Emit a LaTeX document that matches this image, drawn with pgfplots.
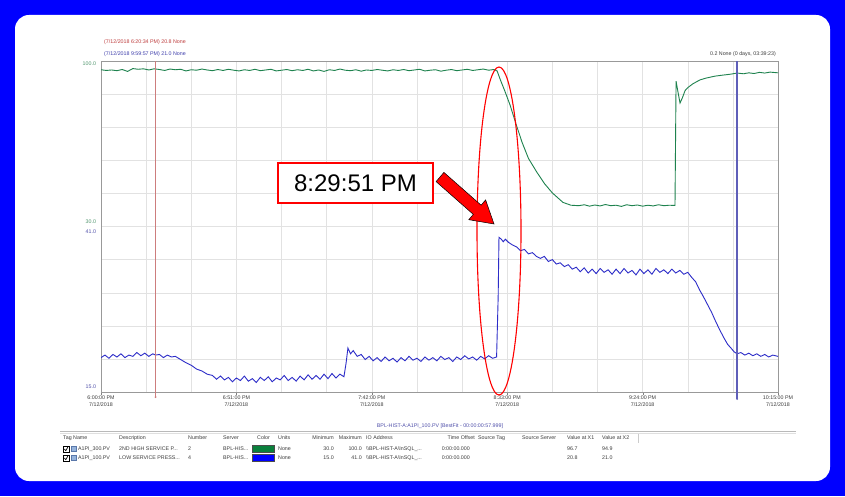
\documentclass[border=0pt]{standalone}
\usepackage{pgfplots}
\pgfplotsset{compat=1.18}
\usepackage{fontspec}
\setmainfont{Liberation Sans}
\definecolor{gline}{RGB}{30,130,78}
\definecolor{bline}{RGB}{45,45,200}
\definecolor{glab}{RGB}{80,150,110}
\definecolor{blab}{RGB}{80,80,170}
\definecolor{gridc}{RGB}{226,226,226}
\definecolor{txt}{RGB}{60,60,60}
\definecolor{bgblue}{RGB}{0,0,255}
\definecolor{swg}{RGB}{10,128,60}
\definecolor{swb}{RGB}{0,0,255}
\definecolor{curA}{RGB}{205,125,125}
\definecolor{curB}{RGB}{95,95,185}
\newcommand\sm{\fontsize{5.3}{6.3}\selectfont}
\begin{document}
\begin{tikzpicture}
\fill[bgblue] (0,0) rectangle (845pt,496pt);
\fill[white,rounded corners=14pt] (15pt,15pt) rectangle (830pt,481pt);
\begin{axis}[at={(101pt,104pt)},anchor=south west,width=677pt,height=331pt,scale only axis,
 xmin=0,xmax=255,ymin=-40,ymax=100,
 xtick={0,51,102,153,204,255}, minor x tick num=2,
 xticklabels={{6:00:00 PM\\7/12/2018},{6:51:00 PM\\7/12/2018},{7:42:00 PM\\7/12/2018},{8:33:00 PM\\7/12/2018},{9:24:00 PM\\7/12/2018},{10:15:00 PM\\7/12/2018}},
 xticklabel style={font=\sm,text=txt,align=center,inner sep=1pt},
 ytick={-40,-26,...,100}, yticklabels={},
 grid=both, major grid style={gridc}, minor grid style={gridc},
 xtick pos=bottom, ytick pos=left,
 major tick length=3pt, minor tick length=0pt, tick align=outside,
 x tick style={draw=gray}, y tick style={draw=none},
 axis line style={draw=gray!80},
 clip=false]
\addplot[gline,line width=0.9pt] table {
0 96.3
2 96.0
4 96.2
6 95.9
8 96.4
10 95.6
12 96.8
14 96.5
16 96.7
18 96.2
20 96.7
22 96.4
24 96.0
26 96.6
28 96.3
30 96.5
32 95.8
34 96.3
36 96.1
38 96.6
40 96.2
42 95.9
44 96.4
46 96.0
48 96.5
50 96.1
52 95.8
54 96.3
56 96.0
58 96.5
60 95.9
62 96.2
64 96.5
66 95.8
68 96.1
70 96.4
72 95.9
74 96.3
76 96.0
78 96.5
80 95.8
82 96.2
84 95.6
86 96.3
88 96.0
90 96.6
92 96.1
94 95.9
96 96.3
98 95.7
100 96.2
102 96.0
104 96.4
106 96.1
108 95.8
110 96.3
112 96.0
114 96.4
116 95.9
118 96.2
120 96.5
122 95.8
124 96.1
126 96.3
128 95.7
130 96.1
132 96.4
134 95.9
136 96.2
138 96.5
140 96.0
142 96.3
144 96.6
146 96.1
148 96.4
149.2 95.8
150.5 91.8
152 87.6
154.1 81.3
156.3 73.4
158.6 65.6
161 58.8
164.2 52.9
167 48.2
170 44.2
174 40.2
177 39.0
180 38.8
182 39.2
184 38.6
186 39.1
188 38.7
190 39.3
192 38.8
194 39.0
196 38.5
198 39.2
200 38.8
202 39.1
204 38.6
206 39.0
208 38.7
210 39.2
212 38.8
214 39.0
216.2 38.9
216.6 91.5
217.3 87.0
218.1 82.2
219 84.5
220 87.5
221.1 88.8
223 90.4
225.6 92.0
228 92.8
231.3 93.6
234 94.0
237 94.4
239.6 94.9
242 94.6
244 95.0
246 94.7
248 95.2
250 94.9
252 95.3
255 95.0
};
\node[anchor=east,text=glab,font=\sm] at ([xshift=-1.5pt,yshift=-3pt]rel axis cs:0,1) {100.0};
\node[anchor=east,text=glab,font=\sm] at ([xshift=-1.5pt,yshift=4.5pt]rel axis cs:0,0.5) {30.0};
\node[anchor=east,text=blab,font=\sm] at ([xshift=-1.5pt,yshift=-5pt]rel axis cs:0,0.5) {41.0};
\node[anchor=east,text=blab,font=\sm] at ([xshift=-1.5pt,yshift=5pt]rel axis cs:0,0) {15.0};
\end{axis}
\begin{axis}[at={(101pt,104pt)},anchor=south west,width=677pt,height=331pt,scale only axis,
 xmin=0,xmax=255,ymin=15,ymax=67,hide axis]
\addplot[bline,line width=0.9pt] table {
0 20.4
1.5 20.8
3 20.3
4.5 20.9
6 20.5
7.5 21.0
9 20.4
10.5 20.8
12 20.6
13.5 21.2
15 20.7
16.5 21.1
18 20.6
19.5 21.0
20.6 20.8
22 20.9
23.5 20.4
25 20.8
26.5 20.5
28 20.6
30 20.1
32 19.6
34 19.2
36 18.6
38 18.3
40 17.8
42 17.6
43.5 17.0
45 17.5
46.5 16.9
48 17.3
49.5 16.6
51 17.2
52.5 16.8
54 17.5
55.5 16.7
57 17.1
58.5 16.5
60 17.3
61.5 16.8
63 17.4
64.5 16.6
66 17.2
67.5 16.9
69 17.6
70.5 16.8
72 17.3
73.5 16.7
75 17.5
76.5 16.9
78 17.7
79.5 17.0
81 17.6
82.5 17.0
84 17.8
85.5 17.1
87 17.9
88.5 17.2
90 17.8
91.5 17.4
92.3 19.5
93 21.9
94 21.0
95 21.5
96.5 20.6
98 20.9
99.5 20.1
101 20.6
102.5 19.9
104 20.4
105.5 19.8
107 20.5
108.5 19.9
110 20.3
111.5 19.7
113 20.4
114.5 19.9
116 20.6
117.5 20.0
119 20.3
120.5 19.8
122 20.5
123.5 20.0
125 20.4
126.5 19.9
128 20.6
129.5 20.1
131 20.4
132.5 19.8
134 20.5
135.5 20.1
137 20.7
138.5 20.2
140 20.5
141.5 20.0
143 20.6
144.5 20.2
146 20.7
147.5 20.3
149 20.5
149.6 30.0
149.9 39.3
150.8 39.0
151.5 38.6
152.3 39.0
153.5 38.5
155 38.1
156.5 37.8
158 37.2
159.5 37.4
161 36.7
162.5 36.9
164 36.3
165.5 36.0
167 36.3
168.5 35.5
170 35.8
171.5 35.1
173 35.3
174.5 34.7
176 35.0
177.5 34.3
179 34.6
180.5 33.9
182 34.5
183.5 33.7
185 34.3
186.5 33.6
188 34.4
189.5 33.8
191 34.2
192.5 33.5
194 34.3
195.5 33.6
197 34.4
198.5 33.7
200 34.1
201.5 33.4
203 34.3
204.5 33.6
206 34.2
207.5 33.5
209 34.4
210.5 33.8
212 34.2
213.5 33.6
215 34.3
216.5 33.7
218 34.1
219.5 33.5
221 33.8
222.5 33.0
224 32.3
225.5 31.0
227 29.9
228.5 28.7
230 27.5
231.5 26.1
233 24.8
234.5 23.6
236 22.5
237.5 21.8
238.5 21.3
239.6 21.0
241 21.2
242.5 20.8
244 21.1
245.5 20.7
247 21.0
248.5 20.6
250 20.9
251.5 20.5
253 20.8
255 20.6
};
\end{axis}
% cursors
\fill[fill=curA] (154.8pt,99pt) rectangle (156.4pt,435pt);
\fill[fill=curA] (155.6pt,99pt) circle (1.1pt);
\fill[fill=curB] (736.3pt,97pt) rectangle (737.9pt,435pt);
\fill[fill=curB] (737.1pt,97pt) circle (1.1pt);
% cursor readouts
\node[anchor=west,text={rgb,255:red,190;green,60;blue,60},font=\sm,inner sep=0] at (104pt,454pt) {(7/12/2018 6:20:34 PM) 20.8 None};
\node[anchor=west,text={rgb,255:red,60;green,60;blue,170},font=\sm,inner sep=0] at (104pt,442pt) {(7/12/2018 9:59:57 PM) 21.0 None};
\node[anchor=east,text=txt,font=\sm,inner sep=0] at (776pt,442pt) {0.2 None (0 days, 03:39:23)};
% ellipse
\draw[red,line width=1.1pt] (499pt,265pt) ellipse [x radius=22pt,y radius=164pt];
% callout
\draw[red,line width=2.3pt,fill=white] (278pt,293pt) rectangle (433pt,333pt);
\node[font=\fontsize{24}{28}\selectfont,text=black] at (355.5pt,313pt) {8:29:51 PM};
\filldraw[fill=red,draw=black,line width=0.5pt] (443.9pt,323.6pt) -- (481.1pt,290.8pt) -- (485.6pt,296.1pt) -- (494pt,272pt) -- (468.8pt,276.3pt) -- (473.3pt,281.6pt) -- (436.1pt,314.4pt) -- cycle;
% bottom panel
\node[text=blab,font=\sm,inner sep=0] at (440pt,70pt) {BPL-HIST-A:A1PI\_100.PV [BestFit - 00:00:00:57.999]};
\draw[gray!55,line width=0.8pt] (60pt,64.5pt) -- (796pt,64.5pt);
\draw[gray!25,line width=0.6pt] (60pt,62.5pt) -- (796pt,62.5pt);
\draw[gray!40,line width=0.4pt] (638pt,62pt) -- (638pt,53pt);
\begin{scope}[every node/.style={font=\sm,text=txt,inner sep=0}]
\node[anchor=west] at (63pt,58pt) {Tag Name};
\node[anchor=west] at (119pt,58pt) {Description};
\node[anchor=west] at (188pt,58pt) {Number};
\node[anchor=west] at (223pt,58pt) {Server};
\node[anchor=west] at (257pt,58pt) {Color};
\node[anchor=west] at (278pt,58pt) {Units};
\node[anchor=east] at (334pt,58pt) {Minimum};
\node[anchor=east] at (362pt,58pt) {Maximum};
\node[anchor=west] at (366pt,58pt) {IO Address};
\node[anchor=east] at (475pt,58pt) {Time Offset};
\node[anchor=west] at (478pt,58pt) {Source Tag};
\node[anchor=west] at (522pt,58pt) {Source Server};
\node[anchor=west] at (567pt,58pt) {Value at X1};
\node[anchor=west] at (602pt,58pt) {Value at X2};
% row 1
\node[anchor=west] at (78pt,47pt) {A1PI\_300.PV};
\node[anchor=west] at (119pt,47pt) {2ND HIGH SERVICE P...};
\node[anchor=west] at (188pt,47pt) {2};
\node[anchor=west] at (223pt,47pt) {BPL-HIS...};
\node[anchor=west] at (278pt,47pt) {None};
\node[anchor=east] at (334pt,47pt) {30.0};
\node[anchor=east] at (362pt,47pt) {100.0};
\node[anchor=west] at (366pt,47pt) {\textbackslash\textbackslash BPL-HIST-A\textbackslash InSQL\_...};
\node[anchor=east] at (470pt,47pt) {0:00:00.000};
\node[anchor=west] at (567pt,47pt) {96.7};
\node[anchor=west] at (602pt,47pt) {94.9};
% row 2
\node[anchor=west] at (78pt,38pt) {A1PI\_100.PV};
\node[anchor=west] at (119pt,38pt) {LOW SERVICE PRESS...};
\node[anchor=west] at (188pt,38pt) {4};
\node[anchor=west] at (223pt,38pt) {BPL-HIS...};
\node[anchor=west] at (278pt,38pt) {None};
\node[anchor=east] at (334pt,38pt) {15.0};
\node[anchor=east] at (362pt,38pt) {41.0};
\node[anchor=west] at (366pt,38pt) {\textbackslash\textbackslash BPL-HIST-A\textbackslash InSQL\_...};
\node[anchor=east] at (470pt,38pt) {0:00:00.000};
\node[anchor=west] at (567pt,38pt) {20.8};
\node[anchor=west] at (602pt,38pt) {21.0};
\end{scope}
% swatches
\filldraw[fill=swg,draw=gray!60!black,line width=0.3pt] (252pt,43.5pt) rectangle (274pt,50.5pt);
\filldraw[fill=swb,draw=gray!60!black,line width=0.3pt] (252pt,34.5pt) rectangle (274pt,41.5pt);
% checkboxes and icons
\foreach \yy in {47,38} {
  \draw[black,line width=0.4pt,fill=white] (63pt,{(\yy-3)*1pt}) rectangle (69pt,{(\yy+3)*1pt});
  \draw[black,line width=0.7pt] (64.3pt,{(\yy)*1pt}) -- (65.8pt,{(\yy-1.6)*1pt}) -- (67.8pt,{(\yy+1.8)*1pt});
  \filldraw[fill={rgb,255:red,150;green,180;blue,220},draw={rgb,255:red,90;green,120;blue,170},line width=0.3pt] (71pt,{(\yy-2.5)*1pt}) rectangle (76pt,{(\yy+2.5)*1pt});
}
\end{tikzpicture}
\end{document}
